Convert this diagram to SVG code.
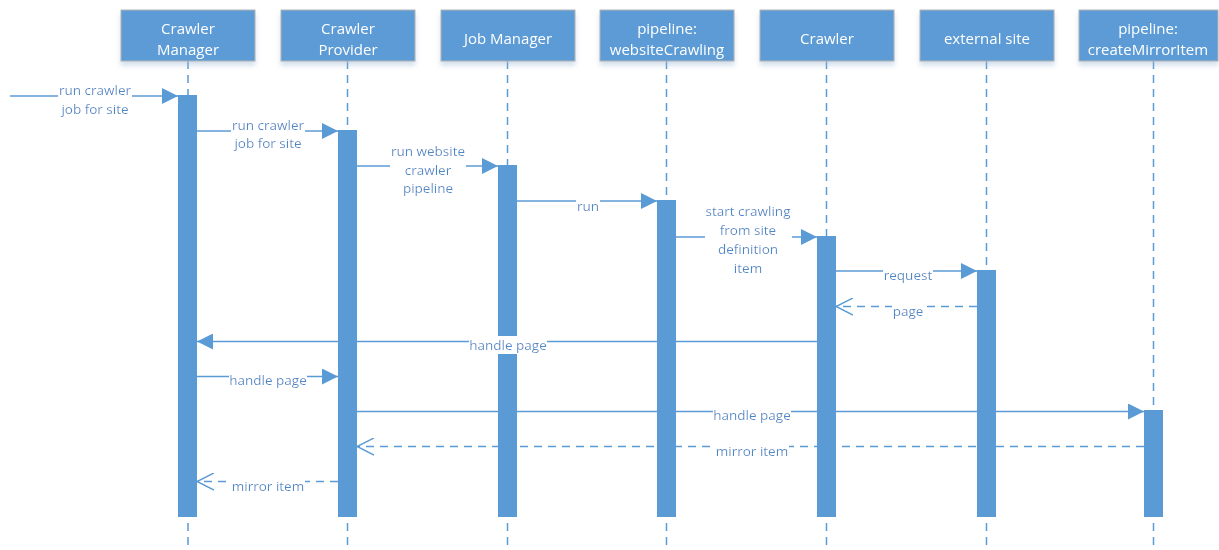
<svg xmlns="http://www.w3.org/2000/svg" width="1219" height="550" viewBox="0 0 1219 550">
  <defs>
    <style>
      .box { fill: #5b9bd5; stroke: #b4b4b4; stroke-width: 1; }
      .boxtext { font-family: "Open Sans", "Liberation Sans", sans-serif; font-size: 15px; fill: #ffffff; text-anchor: middle; }
      .life { stroke: #5b9bd5; stroke-width: 1.5; stroke-dasharray: 8 6; fill: none; }
      .bar { fill: #5b9bd5; }
      .msg { stroke: #5b9bd5; stroke-width: 1.5; fill: none; }
      .ret { stroke: #5b9bd5; stroke-width: 1.5; fill: none; stroke-dasharray: 8 6; }
      .label { font-family: "Open Sans", "Liberation Sans", sans-serif; font-size: 13.5px; fill: #4a89c8; text-anchor: middle; }
    </style>
    <filter id="shadow" x="-10%" y="-20%" width="120%" height="160%">
      <feGaussianBlur in="SourceAlpha" stdDeviation="2.5"/>
      <feOffset dx="0" dy="4" result="b"/>
      <feFlood flood-color="#9fb9d6" flood-opacity="0.45"/>
      <feComposite in2="b" operator="in"/>
      <feMerge><feMergeNode/><feMergeNode in="SourceGraphic"/></feMerge>
    </filter>
    <!-- white plate behind message labels so they break the line -->
    <filter id="plate" x="0" y="0" width="1" height="1">
      <feFlood flood-color="#ffffff"/>
      <feComposite in="SourceGraphic"/>
    </filter>
    <marker id="solid" viewBox="0 0 16 16" refX="16" refY="8" markerWidth="16" markerHeight="16" markerUnits="userSpaceOnUse" orient="auto">
      <path d="M0,0 L16,8 L0,16 Z" fill="#5b9bd5"/>
    </marker>
    <marker id="open" viewBox="0 0 18 18" refX="17" refY="9" markerWidth="18" markerHeight="18" markerUnits="userSpaceOnUse" orient="auto">
      <path d="M0,0.5 L17,9 L0,17.5" fill="none" stroke="#5b9bd5" stroke-width="1.5"/>
    </marker>
  </defs>

  <rect width="1219" height="550" fill="#ffffff"/>

  <!-- lifelines -->
  <g id="lifelines">
    <line class="life" x1="188" y1="61" x2="188" y2="550"/>
    <line class="life" x1="347.5" y1="61" x2="347.5" y2="550"/>
    <line class="life" x1="507.5" y1="61" x2="507.5" y2="550"/>
    <line class="life" x1="666.5" y1="61" x2="666.5" y2="550"/>
    <line class="life" x1="826.5" y1="61" x2="826.5" y2="550"/>
    <line class="life" x1="986.5" y1="61" x2="986.5" y2="550"/>
    <line class="life" x1="1153.5" y1="61" x2="1153.5" y2="550"/>
  </g>

  <!-- participants -->
  <g id="crawler-manager" filter="url(#shadow)">
    <rect class="box" x="121" y="10" width="134" height="51"/>
    <text class="boxtext" x="188" y="34">Crawler</text>
    <text class="boxtext" x="188" y="55">Manager</text>
  </g>
  <g id="crawler-provider" filter="url(#shadow)">
    <rect class="box" x="281" y="10" width="134" height="51"/>
    <text class="boxtext" x="348" y="34">Crawler</text>
    <text class="boxtext" x="348" y="55">Provider</text>
  </g>
  <g id="job-manager" filter="url(#shadow)">
    <rect class="box" x="441" y="10" width="134" height="51"/>
    <text class="boxtext" x="508" y="44">Job Manager</text>
  </g>
  <g id="pipeline-website-crawling" filter="url(#shadow)">
    <rect class="box" x="600" y="10" width="134" height="51"/>
    <text class="boxtext" x="667" y="34">pipeline:</text>
    <text class="boxtext" x="667" y="55">websiteCrawling</text>
  </g>
  <g id="crawler" filter="url(#shadow)">
    <rect class="box" x="760" y="10" width="134" height="51"/>
    <text class="boxtext" x="827" y="44">Crawler</text>
  </g>
  <g id="external-site" filter="url(#shadow)">
    <rect class="box" x="920" y="10" width="134" height="51"/>
    <text class="boxtext" x="987" y="44">external site</text>
  </g>
  <g id="pipeline-create-mirror-item" filter="url(#shadow)">
    <rect class="box" x="1079" y="10" width="139" height="51"/>
    <text class="boxtext" x="1148" y="34">pipeline:</text>
    <text class="boxtext" x="1148" y="55">createMirrorItem</text>
  </g>

  <!-- messages -->
  <g id="connectors">
    <line class="msg" x1="10" y1="96" x2="178" y2="96" marker-end="url(#solid)"/>
    <line class="msg" x1="197" y1="131" x2="338" y2="131" marker-end="url(#solid)"/>
    <line class="msg" x1="357" y1="166" x2="498" y2="166" marker-end="url(#solid)"/>
    <line class="msg" x1="517" y1="201" x2="657" y2="201" marker-end="url(#solid)"/>
    <line class="msg" x1="676" y1="237" x2="817" y2="237" marker-end="url(#solid)"/>
    <line class="msg" x1="836" y1="271" x2="977" y2="271" marker-end="url(#solid)"/>
    <line class="ret" x1="977" y1="306.5" x2="836" y2="306.5" marker-end="url(#open)"/>
    <line class="msg" x1="817" y1="341.5" x2="197" y2="341.5" marker-end="url(#solid)"/>
    <line class="msg" x1="197" y1="376.5" x2="338" y2="376.5" marker-end="url(#solid)"/>
    <line class="msg" x1="357" y1="411.5" x2="1144" y2="411.5" marker-end="url(#solid)"/>
    <line class="ret" x1="1144" y1="446.5" x2="357" y2="446.5" marker-end="url(#open)"/>
    <line class="ret" x1="338" y1="481.5" x2="197" y2="481.5" marker-end="url(#open)"/>
  </g>

  <!-- activations -->
  <g id="activations">
    <rect class="bar" x="178" y="95" width="19" height="422"/>
    <rect class="bar" x="338" y="130" width="19" height="387"/>
    <rect class="bar" x="498" y="165" width="19" height="352"/>
    <rect class="bar" x="657" y="200" width="19" height="317"/>
    <rect class="bar" x="817" y="236" width="19" height="281"/>
    <rect class="bar" x="977" y="270" width="19" height="247"/>
    <rect class="bar" x="1144" y="410" width="19" height="107"/>
  </g>

  <!-- message labels -->
  <g id="labels">
    <text class="label" filter="url(#plate)"><tspan x="95" y="95">run crawler</tspan><tspan x="95" y="113.5">job for site</tspan></text>
    <text class="label" filter="url(#plate)"><tspan x="268" y="130">run crawler</tspan><tspan x="268" y="148">job for site</tspan></text>
    <text class="label" filter="url(#plate)"><tspan x="428" y="156">run website</tspan><tspan x="428" y="174.5">crawler</tspan><tspan x="428" y="193">pipeline</tspan></text>
    <text class="label" filter="url(#plate)" x="588" y="210.5">run</text>
    <text class="label" filter="url(#plate)"><tspan x="748" y="216">start crawling</tspan><tspan x="748" y="234.5">from site</tspan><tspan x="748" y="253.5">definition</tspan><tspan x="748" y="272.5">item</tspan></text>
    <text class="label" filter="url(#plate)" x="908" y="280">request</text>
    <text class="label" filter="url(#plate)" x="908" y="315.5">page</text>
    <text class="label" filter="url(#plate)" x="508" y="350">handle page</text>
    <text class="label" filter="url(#plate)" x="268" y="385">handle page</text>
    <text class="label" filter="url(#plate)" x="752" y="420">handle page</text>
    <text class="label" filter="url(#plate)" x="752" y="455.5">mirror item</text>
    <text class="label" filter="url(#plate)" x="268" y="490.5">mirror item</text>
  </g>
</svg>
